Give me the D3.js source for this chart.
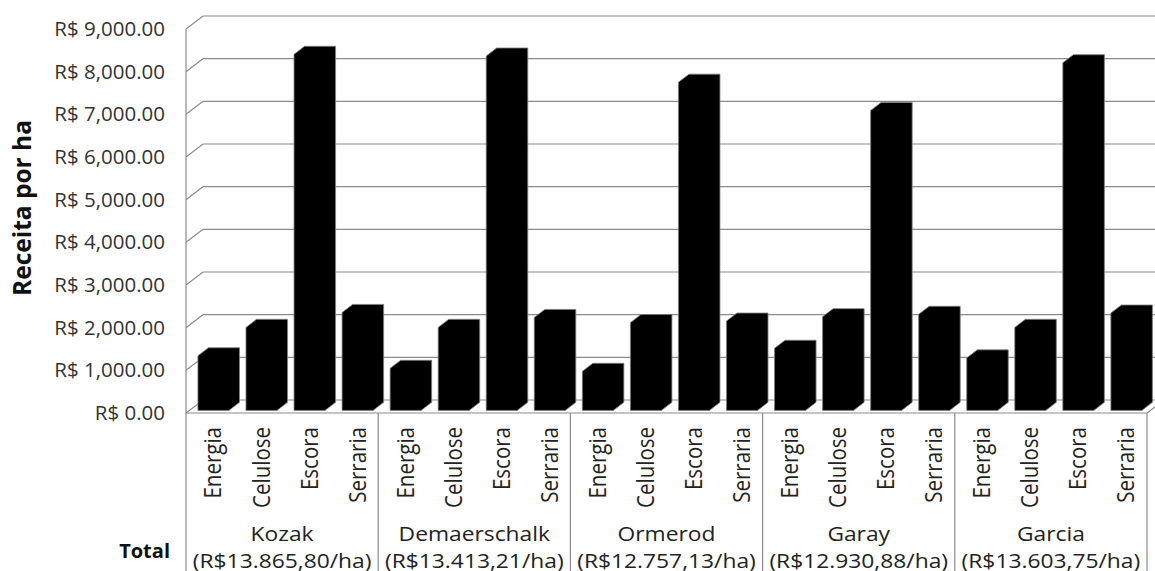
<!DOCTYPE html>
<html>
<head>
<meta charset="utf-8">
<script src="https://cdn.jsdelivr.net/npm/d3@7/dist/d3.min.js"></script>
<style>
  body { margin: 0; background: #fff; }
  svg { display: block; font-family: "Open Sans", sans-serif; }
</style>
</head>
<body>
<svg id="chart" width="1155" height="571"></svg>
<script>
// data
var groups = ['Kozak', 'Demaerschalk', 'Ormerod', 'Garay', 'Garcia'];
var group_totals = ['(R$13.865,80/ha)', '(R$13.413,21/ha)', '(R$12.757,13/ha)', '(R$12.930,88/ha)', '(R$13.603,75/ha)'];
var products = ['Energia', 'Celulose', 'Escora', 'Serraria'];
var energia  = [1280,  985,  915, 1455, 1230];
var celulose = [1945, 1945, 2057, 2195, 1945];
var escora   = [8345, 8305, 7692, 7030, 8148];
var serraria = [2295, 2178, 2093, 2251, 2281];
var y_ticks  = [0, 1000, 2000, 3000, 4000, 5000, 6000, 7000, 8000, 9000];

var series = [energia, celulose, escora, serraria];

var svg = d3.select('#chart');

// front plane of the 3d box; depth vector goes up-right
var left = 186, right = 1147, floor_y = 413, top_y = 29;
var depth = { dx: 17, dy: -13 };
// the picture is a bit stretched sideways
var stretch = 1.12;

var x = d3.scaleBand().domain(groups).range([left, right]);
var xs = d3.scaleBand().domain(products).range([0, x.bandwidth()])
    .paddingInner(0.355).paddingOuter(0.1775);
var y = d3.scaleLinear().domain([0, 9000]).range([floor_y, top_y]);

var grid_col = '#8c8c8c';

// gridlines: side wall diagonal + back wall
var grid = svg.append('g');
y_ticks.forEach(function (t) {
    grid.append('polyline')
        .attr('points', [
            [left, y(t)],
            [left + depth.dx, y(t) + depth.dy],
            [1160, y(t) + depth.dy]
        ].join(' '))
        .attr('fill', 'none')
        .attr('stroke', grid_col)
        .attr('stroke-width', 1.2);
});

// floor front edge and right diagonal
svg.append('polyline')
    .attr('points', [[left, floor_y], [right, floor_y], [right + depth.dx, floor_y + depth.dy]].join(' '))
    .attr('fill', 'none')
    .attr('stroke', grid_col)
    .attr('stroke-width', 1.2);

// left wall front edge
svg.append('line')
    .attr('x1', left).attr('x2', left)
    .attr('y1', y(9000)).attr('y2', 571)
    .attr('stroke', grid_col)
    .attr('stroke-width', 1.2);

// group dividers under the floor
groups.forEach(function (g) {
    var xx = x(g) + x.bandwidth();
    svg.append('line')
        .attr('x1', xx).attr('x2', xx)
        .attr('y1', floor_y).attr('y2', 571)
        .attr('stroke', grid_col)
        .attr('stroke-width', 1.2);
});

// bars as prisms
var f0 = 0.2, f1 = 0.82;
var bars = [];
groups.forEach(function (g, gi) {
    products.forEach(function (p, pi) {
        bars.push({ group: g, product: p, value: series[pi][gi] });
    });
});

svg.append('g').selectAll('polygon')
    .data(bars)
    .join('polygon')
        .attr('points', function (d) {
            var x0 = x(d.group) + xs(d.product) + f0 * depth.dx;
            var w = xs.bandwidth();
            var yb = floor_y + f0 * depth.dy;
            var yt = y(d.value) + f0 * depth.dy;
            var ddx = (f1 - f0) * depth.dx, ddy = (f1 - f0) * depth.dy;
            return [
                [x0, yb], [x0, yt], [x0 + ddx, yt + ddy],
                [x0 + w + ddx, yt + ddy], [x0 + w + ddx, yb + ddy], [x0 + w, yb]
            ].join(' ');
        })
        .attr('fill', '#000')
        .attr('stroke', '#7f7f7f')
        .attr('stroke-width', 0.8);

// y axis labels
var yAxis = d3.axisLeft(y)
    .tickValues(y_ticks)
    .tickSize(0)
    .tickPadding(21)
    .tickFormat(function (d) { return 'R$ ' + d3.format(',.2f')(d); });

var ya = svg.append('g')
    .attr('transform', 'translate(' + left + ',0)')
    .call(yAxis);
ya.select('.domain').remove();
ya.selectAll('text')
    .style('font-family', '"Open Sans", sans-serif')
    .style('font-size', '20.5px')
    .attr('fill', '#333');

// axis title
svg.append('text')
    .attr('transform', 'translate(31,208) rotate(-90) scale(1,1.05)')
    .attr('text-anchor', 'middle')
    .style('font-size', '24.5px')
    .style('font-weight', 'bold')
    .attr('fill', '#111')
    .text('Receita por ha');

// product labels, rotated
var cat = svg.append('g');
groups.forEach(function (g) {
    products.forEach(function (p) {
        var cx = x(g) + xs(p) + f0 * depth.dx + xs.bandwidth() / 2;
        cat.append('text')
            .attr('transform', 'translate(' + cx + ',427) rotate(-90) scale(1,' + stretch + ')')
            .attr('text-anchor', 'end')
            .attr('dy', '0.35em')
            .style('font-size', '20.5px')
            .attr('fill', '#222')
            .text(p);
    });
});

// group labels
groups.forEach(function (g, i) {
    var cx = x(g) + x.bandwidth() / 2;
    svg.append('text')
        .attr('transform', 'translate(' + cx + ',541) scale(1.14,1)')
        .attr('text-anchor', 'middle')
        .style('font-size', '20px')
        .attr('fill', '#222')
        .text(g);
    svg.append('text')
        .attr('transform', 'translate(' + cx + ',568) scale(1.14,1)')
        .attr('text-anchor', 'middle')
        .style('font-size', '20px')
        .attr('fill', '#222')
        .text(group_totals[i]);
});

svg.append('text')
    .attr('x', 170).attr('y', 558)
    .attr('text-anchor', 'end')
    .style('font-size', '20px')
    .style('font-weight', 'bold')
    .attr('fill', '#111')
    .text('Total');
</script>
</body>
</html>
